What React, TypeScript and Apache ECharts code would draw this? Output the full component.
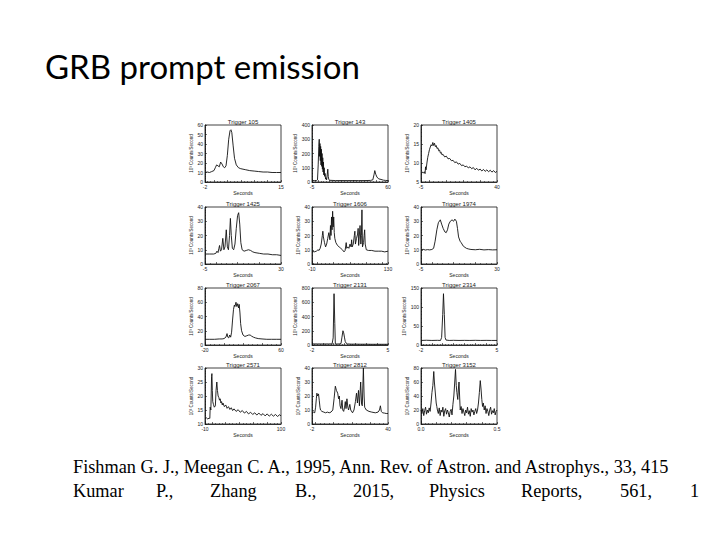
import React, { useEffect, useRef } from "react";
import * as echarts from "echarts";

// ---- Light-curve data: [seconds, 10^3 counts/second] ----
const t105: [number, number][] = [[-2,10],[-1.5,10.5],[-1,10],[-0.5,11],[0,12],[0.3,15],[0.6,18],[0.9,17],[1.2,16],[1.5,21],[1.8,19],[2.1,16],[2.4,15],[2.7,17],[3.0,28],[3.3,45],[3.6,54],[3.8,55],[4.0,52],[4.3,38],[4.6,25],[5.0,18],[5.5,15],[6,14],[7,13],[8,12],[9,11.5],[10,11],[11,10.5],[12,10.5],[13,10],[14,10],[15,10]];
const t143: [number, number][] = [[-5,10],[-3,10],[-1,11],[-0.3,15],[0.3,120],[0.8,250],[1.2,300],[1.5,180],[1.8,270],[2.1,150],[2.4,250],[2.7,120],[3.0,230],[3.3,110],[3.6,200],[3.9,90],[4.2,170],[4.5,70],[4.8,140],[5.1,50],[5.4,100],[5.8,40],[6.2,60],[6.6,20],[7.0,30],[7.5,15],[8.0,50],[8.5,90],[8.9,40],[9.3,20],[10,12],[15,10],[20,10],[25,10],[30,10],[35,10],[40,10],[45,11],[47,15],[48,50],[48.7,80],[49.5,55],[50.5,35],[52,22],[54,18],[56,13],[58,11],[60,10]];
const t1405: [number, number][] = [[-5,7.5],[-4.5,7.3],[-4,7.6],[-3.5,7.4],[-3,7.7],[-2.6,7.2],[-2.3,9],[-2,8.2],[-1.5,10],[-1,11.5],[-0.5,12.5],[0,13.5],[0.5,14.2],[1,14.8],[1.5,14.5],[2,15.4],[2.5,14.6],[3,15.2],[3.5,14.3],[4,14.6],[4.5,13.8],[5,14],[5.5,13.2],[6,13.4],[6.5,12.6],[7,12.8],[7.5,12.1],[8,12.3],[9,11.6],[10,11.8],[11,11.1],[12,11.2],[13,10.6],[14,10.7],[15,10.1],[16,10.3],[17,9.7],[18,9.9],[19,9.3],[20,9.5],[21,9],[22,9.2],[23,8.7],[24,9],[25,8.5],[26,8.8],[27,8.2],[28,8.6],[29,8.1],[30,8.4],[31,7.9],[32,8.3],[33,7.8],[34,8.2],[35,7.7],[36,8.1],[37,7.6],[38,8.0],[39,7.5],[40,7.8]];
const t1425: [number, number][] = [[-5,7],[-3,7],[-1,7],[0,7.5],[0.5,9],[1,8],[1.4,11],[1.7,13],[2.1,9],[2.6,10],[3.2,18],[3.7,10],[4.2,12],[4.8,24],[5.3,12],[5.8,10],[6.3,20],[6.7,32],[7.1,20],[7.6,11],[8.2,10],[8.8,14],[9.4,25],[10,34],[10.5,36],[11,28],[11.5,15],[12.1,10],[13,9],[14,9.5],[15,10],[16,9.5],[17,8.5],[18,8],[20,7.5],[22,7],[24,7],[26,6.5],[28,6.5],[30,6]];
const t1606: [number, number][] = [[-10,9],[-6,8.5],[-2,9],[1,10],[3,9.5],[5,11],[7,14],[9,20],[10,23],[11,19],[13,15],[15,12],[17,14],[19,18],[21,22],[23,17],[24,27],[25,20],[26,33],[27,24],[28,37],[29,26],[30,33],[31,22],[32,18],[34,15],[37,13],[40,12],[43,11],[46,10],[49,8.5],[51,9.5],[53,15],[54,11],[56,12],[58,11],[60,14],[62,12],[63,17],[64,12],[66,14],[68,20],[69,23],[70,14],[72,18],[74,21],[75,25],[76,13],[77,19],[78.5,27],[80,14],[81,20],[82,38],[83,12],[85,15],[86,20],[87,24],[88,14],[90,10],[94,9.5],[100,9.5],[106,9],[112,9],[118,9],[124,8.5],[130,9]];
const t1974: [number, number][] = [[-5,10],[-4,10.3],[-3,9.8],[-2,10.1],[-1,9.9],[0,10.2],[0.8,11],[1.5,16],[2.3,24],[3,29],[3.9,31],[4.5,28],[5.2,25],[6,22.5],[6.6,22],[7.2,24],[7.8,28],[8.5,30],[9.3,31],[10,30],[10.6,31.5],[11.3,30],[11.8,25],[12.3,19],[13,16],[13.5,15],[14.5,12.5],[15.9,11],[17,10.5],[18,10.2],[20,10],[22,10.3],[24,9.9],[26,10.1],[28,9.9],[30,10]];
const t2067: [number, number][] = [[-20,8],[-15,8],[-10,8],[-5,8.5],[-2,8.5],[0,9],[2,11],[3.2,16],[4,11],[5,10],[6,14],[7,11],[8,18],[9,35],[10,50],[10.9,56],[11.5,54],[12.6,60],[13.5,54],[14.4,58],[15.3,52],[16,57],[16.8,45],[17.5,30],[18.5,20],[20,14],[22,12],[24,13],[26,14],[27.5,14],[29,12.5],[31,11],[33,10],[36,9],[40,8.5],[45,8],[50,8],[55,8],[60,8]];
const t2131: [number, number][] = [[-2,15],[-1.5,15],[-1,14],[-0.5,15],[-0.15,15],[-0.05,100],[0.03,720],[0.1,300],[0.15,15],[0.3,14],[0.5,15],[0.67,20],[0.75,100],[0.85,200],[0.92,170],[1.0,100],[1.06,50],[1.15,25],[1.27,15],[1.6,12],[2,12],[2.5,11],[3,11],[3.5,10],[4,10],[4.5,10],[5,10]];
const t2314: [number, number][] = [[-2,12],[-1.5,12.5],[-1,12],[-0.5,12.3],[-0.2,12],[-0.1,20],[0,80],[0.07,135],[0.15,80],[0.22,20],[0.3,13],[0.6,12],[1,12.3],[1.5,12],[2,12.2],[2.5,12],[3,12.3],[3.5,12],[4,12.2],[4.5,12],[5,12]];
const t2571: [number, number][] = [[-10,12],[-8,12.2],[-6,11.8],[-4,12.1],[-3,12],[-2.5,16],[-1.5,15],[-0.5,27],[0,28],[0.6,22],[1.2,18],[2.2,17],[3.5,16],[5,16.5],[6,22],[7.1,25],[8,22],[9,20],[10,19.5],[11,18.5],[12,19],[13,17.5],[14,18],[15,16.8],[16,17.5],[18,16.2],[20,16.8],[22,15.6],[24,16.2],[26,15.2],[28,15.8],[30,14.8],[32,15.4],[35,14.5],[38,15.1],[41,14.2],[44,14.8],[47,13.9],[50,14.5],[53,13.6],[56,14.2],[59,13.4],[62,14],[65,13.2],[68,13.9],[71,13.1],[74,13.7],[77,12.9],[80,13.6],[83,12.8],[86,13.5],[89,12.8],[92,13.4],[95,12.7],[98,13.3],[100,12.9]];
const t2812: [number, number][] = [[-2,8],[-1,8.5],[-0.5,8],[0,12],[0.4,18],[0.7,22],[1.1,20],[1.6,21.5],[2,17],[2.4,12],[2.7,10],[3.5,9],[4.5,8.5],[5.5,8],[6.5,8.5],[7.5,8],[8.5,8.5],[9.5,10],[10.2,18],[10.9,27],[11.5,24],[12.2,22],[12.7,18],[13.1,20],[13.5,13],[14,11],[14.6,17],[15,10],[15.5,9],[16,12],[16.4,16],[16.8,11],[17.3,18],[17.8,12],[18.2,10],[18.9,14],[19.4,10],[20.4,8],[21.2,10],[22,16],[22.6,22],[23.1,15],[23.7,24],[24.2,13],[24.9,30],[25.4,14],[25.8,13],[26.4,40],[26.8,20],[27.1,12],[28,10],[29.5,9],[31,8.5],[33,8],[34.5,8.5],[35.3,10],[35.8,13],[36.3,9],[37,8],[38,7.8],[39,7.5],[40,7.5]];
const t3152: [number, number][] = [[0,20],[0.006,15],[0.012,22],[0.018,12],[0.024,19],[0.03,24],[0.036,14],[0.042,20],[0.048,16],[0.054,23],[0.06,18],[0.066,30],[0.072,45],[0.078,55],[0.084,75],[0.088,60],[0.092,50],[0.096,40],[0.1,30],[0.104,25],[0.108,20],[0.114,15],[0.12,23],[0.126,12],[0.132,20],[0.138,17],[0.144,24],[0.15,11],[0.156,19],[0.162,22],[0.168,14],[0.174,20],[0.18,16],[0.186,10],[0.192,18],[0.198,21],[0.204,13],[0.21,28],[0.216,40],[0.222,60],[0.227,78],[0.232,55],[0.236,45],[0.242,35],[0.246,50],[0.25,60],[0.254,40],[0.258,20],[0.264,25],[0.27,15],[0.276,22],[0.282,17],[0.288,12],[0.294,20],[0.3,16],[0.306,24],[0.312,14],[0.318,19],[0.324,11],[0.33,22],[0.336,17],[0.342,20],[0.348,13],[0.354,18],[0.36,22],[0.366,15],[0.372,20],[0.378,30],[0.384,45],[0.39,62],[0.395,50],[0.4,35],[0.405,25],[0.41,30],[0.416,20],[0.422,26],[0.428,15],[0.434,22],[0.44,18],[0.446,12],[0.452,20],[0.458,24],[0.464,14],[0.47,19],[0.476,16],[0.482,22],[0.488,13],[0.494,18],[0.5,20]];

// ---- Panel titles and axis ranges ----
const panelTitles = ["Trigger 105","Trigger 143","Trigger 1405","Trigger 1425","Trigger 1606","Trigger 1974","Trigger 2067","Trigger 2131","Trigger 2314","Trigger 2571","Trigger 2812","Trigger 3152"];
const panelData = [t105, t143, t1405, t1425, t1606, t1974, t2067, t2131, t2314, t2571, t2812, t3152];
const xRanges: [number, number][] = [[-2,15],[-5,60],[-5,40],[-5,30],[-10,130],[-5,30],[-20,60],[-2,5],[-2,5],[-10,100],[-2,40],[0,0.5]];
const yRanges: [number, number, number][] = [[0,60,10],[0,400,100],[5,20,5],[0,40,10],[0,40,10],[0,40,10],[0,80,20],[0,800,200],[0,150,50],[10,30,5],[0,40,10],[0,80,20]];

const slideTitle = "GRB prompt emission";
const citation1 = "Fishman G. J., Meegan C. A., 1995, Ann. Rev. of Astron. and Astrophys., 33, 415";
const citation2Words = ["Kumar","P.,","Zhang","B.,","2015,","Physics","Reports,","561,","1"];

const colLeft = [205, 312, 421];
const rowTop = [125, 207, 288, 368];
const PW = 76;
const PH = 57;
const word2X = [73, 156, 210, 295, 353, 429, 521, 620, 690];

export default function App() {
  const ref = useRef<HTMLDivElement>(null);
  useEffect(() => {
    if (!ref.current) return;
    const chart = echarts.init(ref.current, undefined, { renderer: "svg" });
    const tinyFont = "Liberation Sans";
    const axisColor = "#111";
    const grids: any[] = [];
    const xAxes: any[] = [];
    const yAxes: any[] = [];
    const series: any[] = [];
    const graphics: any[] = [];
    panelData.forEach((d, i) => {
      const col = i % 3;
      const row = Math.floor(i / 3);
      const left = colLeft[col];
      const top = rowTop[row];
      const h = row === 3 ? PH - 1 : PH;
      const [xmin, xmax] = xRanges[i];
      const [ymin, ymax, yint] = yRanges[i];
      grids.push({ left, top, width: PW, height: h, show: true, borderColor: axisColor, borderWidth: 0.8, containLabel: false });
      xAxes.push({
        type: "value", gridIndex: i, min: xmin, max: xmax,
        axisLine: { show: true, onZero: false, lineStyle: { color: axisColor, width: 0.8 } },
        axisTick: { show: true, inside: true, length: 2, lineStyle: { color: axisColor, width: 0.6 } },
        minorTick: { show: true, splitNumber: 4, length: 1, lineStyle: { color: axisColor, width: 0.5 } },
        splitLine: { show: false },
        axisLabel: {
          customValues: [xmin, xmax], fontSize: 5, margin: 2, color: "#222", fontFamily: tinyFont,
          formatter: (v: number) => (xmax < 1 ? v.toFixed(1) : String(v)),
        },
        name: "Seconds", nameLocation: "middle", nameGap: 8,
        nameTextStyle: { fontSize: 5, color: "#222", fontFamily: tinyFont },
      });
      yAxes.push({
        type: "value", gridIndex: i, min: ymin, max: ymax, interval: yint,
        axisLine: { show: true, onZero: false, lineStyle: { color: axisColor, width: 0.8 } },
        axisTick: { show: true, inside: true, length: 2, lineStyle: { color: axisColor, width: 0.6 } },
        minorTick: { show: true, splitNumber: 5, length: 1, lineStyle: { color: axisColor, width: 0.5 } },
        splitLine: { show: false },
        axisLabel: { fontSize: 5, margin: 2, color: "#222", fontFamily: tinyFont },
        name: "10³ Counts/Second", nameLocation: "middle", nameGap: 11, nameRotate: 90,
        nameTextStyle: { fontSize: 4.5, color: "#222", fontFamily: tinyFont },
      });
      series.push({
        type: "line", xAxisIndex: i, yAxisIndex: i, data: d, symbol: "none", showSymbol: false,
        lineStyle: { color: "#111", width: 0.9 }, clip: true, silent: true,
      });
      graphics.push({
        type: "text", x: left + PW / 2, y: top - 3.5,
        style: { text: panelTitles[i], fontSize: 6, fontFamily: tinyFont, fill: "#222", textAlign: "center", textVerticalAlign: "middle" },
      });
    });
    graphics.push({
      type: "text", x: 45, y: 66,
      style: { text: slideTitle, fontSize: 33, fontFamily: "Lato", fill: "#000", textAlign: "left", textVerticalAlign: "middle" },
    });
    graphics.push({
      type: "text", x: 73, y: 467,
      style: { text: citation1, fontSize: 18.3, fontFamily: "Liberation Serif", fill: "#000", textAlign: "left", textVerticalAlign: "middle" },
    });
    citation2Words.forEach((w, k) => {
      graphics.push({
        type: "text", x: word2X[k], y: 491,
        style: { text: w, fontSize: 18.3, fontFamily: "Liberation Serif", fill: "#000", textAlign: "left", textVerticalAlign: "middle" },
      });
    });
    chart.setOption({
      animation: false,
      backgroundColor: "#ffffff",
      grid: grids,
      xAxis: xAxes,
      yAxis: yAxes,
      series,
      graphic: graphics,
    });
    return () => chart.dispose();
  }, []);
  return <div ref={ref} style={{ position: "fixed", left: 0, top: 0, width: 720, height: 540 }} />;
}
